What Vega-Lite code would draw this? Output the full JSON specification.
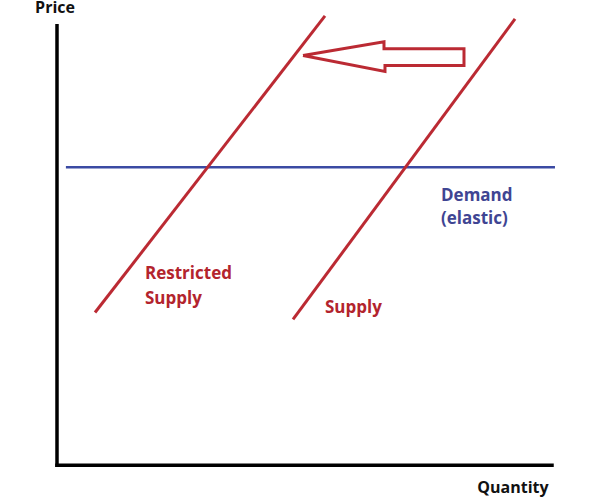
{
  "$schema": "https://vega.github.io/schema/vega-lite/v6.json",
  "width": 600,
  "height": 497,
  "autosize": {"type": "fit", "contains": "padding"},
  "padding": 0,
  "background": "white",
  "config": {"view": {"stroke": null}},
  "datasets": {
    "lines": [
      {"seg": "yaxis", "q": 0, "p": 0, "ord": 0},
      {"seg": "yaxis", "q": 0, "p": 100, "ord": 1},
      {"seg": "xaxis", "q": 0, "p": 0, "ord": 0},
      {"seg": "xaxis", "q": 100, "p": 0, "ord": 1},
      {"seg": "demand", "q": 1.8, "p": 67.8, "ord": 0},
      {"seg": "demand", "q": 100.6, "p": 67.8, "ord": 1},
      {"seg": "restricted", "q": 7.68, "p": 34.76, "ord": 0},
      {"seg": "restricted", "q": 54.14, "p": 102.26, "ord": 1},
      {"seg": "supply", "q": 47.68, "p": 33.18, "ord": 0},
      {"seg": "supply", "q": 92.53, "p": 101.58, "ord": 1},
      {"seg": "arrow", "q": 49.7, "p": 93.23, "ord": 0},
      {"seg": "arrow", "q": 66.06, "p": 96.39, "ord": 1},
      {"seg": "arrow", "q": 66.06, "p": 94.81, "ord": 2},
      {"seg": "arrow", "q": 82.22, "p": 94.81, "ord": 3},
      {"seg": "arrow", "q": 82.22, "p": 90.97, "ord": 4},
      {"seg": "arrow", "q": 66.26, "p": 90.97, "ord": 5},
      {"seg": "arrow", "q": 66.26, "p": 89.62, "ord": 6},
      {"seg": "arrow", "q": 49.7, "p": 93.23, "ord": 7}
    ],
    "labels": [
      {"text": "Price", "q": -0.4, "p": 102.93, "kind": "axis"},
      {"text": "Quantity", "q": 92.12, "p": -6.32, "kind": "axis"},
      {"text": "Restricted", "q": 17.78, "p": 42.44, "kind": "supply"},
      {"text": "Supply", "q": 17.78, "p": 36.79, "kind": "supply"},
      {"text": "Supply", "q": 54.14, "p": 34.54, "kind": "supply"},
      {"text": "Demand", "q": 77.58, "p": 60.2, "kind": "demand"},
      {"text": "(elastic)", "q": 77.58, "p": 54.85, "kind": "demand"}
    ]
  },
  "layer": [
    {
      "data": {"name": "lines"},
      "transform": [{"filter": "datum.seg === 'xaxis' || datum.seg === 'yaxis'"}],
      "mark": {"type": "line", "strokeWidth": 3.5, "color": "#000000", "clip": false, "strokeCap": "square"},
      "encoding": {
        "x": {"field": "q", "type": "quantitative", "axis": null, "scale": {"domain": [-11.515, 109.697], "nice": false, "zero": false}},
        "y": {"field": "p", "type": "quantitative", "axis": null, "scale": {"domain": [-7.22, 104.97], "nice": false, "zero": false}},
        "detail": {"field": "seg"},
        "order": {"field": "ord"}
      }
    },
    {
      "data": {"name": "lines"},
      "transform": [{"filter": "datum.seg === 'demand'"}],
      "mark": {"type": "line", "strokeWidth": 2.5, "color": "#3b4aa3", "clip": false},
      "encoding": {
        "x": {"field": "q", "type": "quantitative"},
        "y": {"field": "p", "type": "quantitative"},
        "detail": {"field": "seg"},
        "order": {"field": "ord"}
      }
    },
    {
      "data": {"name": "lines"},
      "transform": [{"filter": "datum.seg === 'restricted' || datum.seg === 'supply' || datum.seg === 'arrow'"}],
      "mark": {"type": "line", "strokeWidth": 3, "color": "#bb2a33", "clip": false, "strokeJoin": "miter"},
      "encoding": {
        "x": {"field": "q", "type": "quantitative"},
        "y": {"field": "p", "type": "quantitative"},
        "detail": {"field": "seg"},
        "order": {"field": "ord"}
      }
    },
    {
      "data": {"name": "labels"},
      "transform": [{"filter": "datum.kind === 'axis'"}],
      "mark": {"type": "text", "font": "Open Sans", "fontWeight": "bold", "fontSize": 16, "align": "center", "baseline": "alphabetic", "color": "#111111", "clip": false},
      "encoding": {
        "x": {"field": "q", "type": "quantitative"},
        "y": {"field": "p", "type": "quantitative"},
        "text": {"field": "text"}
      }
    },
    {
      "data": {"name": "labels"},
      "transform": [{"filter": "datum.kind === 'supply'"}],
      "mark": {"type": "text", "font": "Open Sans", "fontWeight": "bold", "fontSize": 17, "align": "left", "baseline": "alphabetic", "color": "#b3242d", "clip": false},
      "encoding": {
        "x": {"field": "q", "type": "quantitative"},
        "y": {"field": "p", "type": "quantitative"},
        "text": {"field": "text"}
      }
    },
    {
      "data": {"name": "labels"},
      "transform": [{"filter": "datum.kind === 'demand'"}],
      "mark": {"type": "text", "font": "Open Sans", "fontWeight": "bold", "fontSize": 17, "align": "left", "baseline": "alphabetic", "color": "#3f4593", "clip": false},
      "encoding": {
        "x": {"field": "q", "type": "quantitative"},
        "y": {"field": "p", "type": "quantitative"},
        "text": {"field": "text"}
      }
    }
  ]
}
